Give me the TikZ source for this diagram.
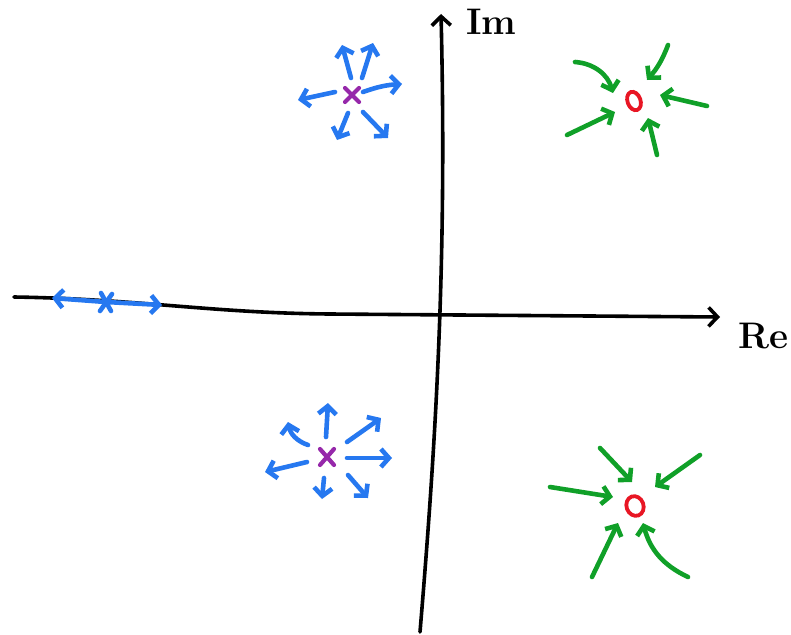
\documentclass[tikz,border=0pt]{standalone}
\usetikzlibrary{arrows.meta,calc,shapes.geometric}
\definecolor{penblue}{RGB}{38,120,240}
\definecolor{pengreen}{RGB}{16,160,40}
\definecolor{penred}{RGB}{232,22,36}
\definecolor{penpurple}{RGB}{150,40,170}
\tikzset{
  axisline/.style={line width=3.6pt,black,line cap=round,line join=round,-{Straight Barb[length=9pt,width=19pt,line width=3.6pt]}},
  outarrow/.style={line width=4.6pt,penblue,line cap=round,line join=round,-{Straight Barb[length=8pt,width=18pt,line width=4.6pt]}},
  inarrow/.style={line width=4.6pt,pengreen,line cap=round,line join=round,-{Straight Barb[length=8pt,width=18pt,line width=4.6pt]}},
  polemark/.style={line width=4.2pt,penpurple,line cap=round},
  lbl/.style={font=\fontsize{37}{37}\selectfont\bfseries,inner sep=0pt}
}
\begin{document}
\begin{tikzpicture}[x=1pt,y=-1pt]
\useasboundingbox (0,0) rectangle (791,634);
% axes
\coordinate (xs) at (14,297);
\coordinate (xe) at (720,317);
\coordinate (ys) at (420,632);
\coordinate (ye) at (441,14);
\draw[axisline] (xs) .. controls (140,299) and (210,313) .. (330,314) -- (xe);
\draw[axisline] (ys) .. controls (436,440) and (447,260) .. (ye);
\node[lbl,anchor=west] (im) at (466,22) {Im};
\node[lbl,anchor=west] (re) at (738,336) {Re};

% pole on real axis
\coordinate (p0) at (106,302);
\coordinate (p0l) at (52,298);
\coordinate (p0r) at (162,305);
\draw[outarrow] (p0) -- (p0l);
\draw[outarrow] (p0) -- (p0r);
\draw[line width=4.6pt,penblue,line cap=round] ($(p0)+(-5,-9)$) -- ($(p0)+(5,9)$);
\draw[line width=4.6pt,penblue,line cap=round] ($(p0)+(6,-8)$) -- ($(p0)+(-6,9)$);

% upper pole
\coordinate (p1) at (352,95);
\coordinate (p1a) at (342,45);
\coordinate (p1b) at (373,43);
\coordinate (p1c) at (402,84);
\coordinate (p1d) at (298,100);
\coordinate (p1e) at (337,140);
\coordinate (p1f) at (388,138);
\draw[outarrow] (351,78) -- (p1a);
\draw[outarrow] (362,78) -- (p1b);
\draw[outarrow] (363,92) to[bend left=8] (p1c);
\draw[outarrow] (335,92) -- (p1d);
\draw[outarrow] (348,113) -- (p1e);
\draw[outarrow] (363,112) -- (p1f);
\draw[polemark] ($(p1)+(-7,-7)$) -- ($(p1)+(7,7)$);
\draw[polemark] ($(p1)+(7,-7)$) -- ($(p1)+(-7,7)$);

% lower pole
\coordinate (p2) at (327,457);
\coordinate (p2a) at (328,403);
\coordinate (p2b) at (381,418);
\coordinate (p2c) at (392,458);
\coordinate (p2d) at (368,498);
\coordinate (p2e) at (322,499);
\coordinate (p2f) at (265,472);
\coordinate (p2g) at (288,422);
\draw[outarrow] (326,437) -- (p2a);
\draw[outarrow] (347,442) -- (p2b);
\draw[outarrow] (347,458) -- (p2c);
\draw[outarrow] (348,475) -- (p2d);
\draw[outarrow] (324,478) -- (p2e);
\draw[outarrow] (307,462) -- (p2f);
\draw[outarrow] (308,445) to[bend left=30] (p2g);
\draw[polemark] ($(p2)+(-7,-8)$) -- ($(p2)+(7,8)$);
\draw[polemark] ($(p2)+(7,-8)$) -- ($(p2)+(-7,8)$);

% upper zero
\coordinate (z1) at (634,101);
\draw[inarrow] (575,62) to[bend left=35] (613,93);
\draw[inarrow] (668,45) to[bend left=10] (647,80);
\draw[inarrow] (707,106) -- (660,95);
\draw[inarrow] (567,135) -- (615,112);
\draw[inarrow] (657,155) -- (648,118);
\node[draw=penred,line width=3.8pt,ellipse,minimum width=13pt,minimum height=19pt,inner sep=0pt,rotate=20] (z1o) at (z1) {};

% lower zero
\coordinate (z2) at (635,506);
\draw[inarrow] (600,448) -- (632,482);
\draw[inarrow] (700,455) -- (655,487);
\draw[inarrow] (550,487) -- (613,497);
\draw[inarrow] (592,577) -- (618,523);
\draw[inarrow] (688,577) to[bend left=25] (643,523);
\node[draw=penred,line width=3.8pt,ellipse,minimum width=17pt,minimum height=20pt,inner sep=0pt,rotate=20] (z2o) at (z2) {};
\end{tikzpicture}
\end{document}
